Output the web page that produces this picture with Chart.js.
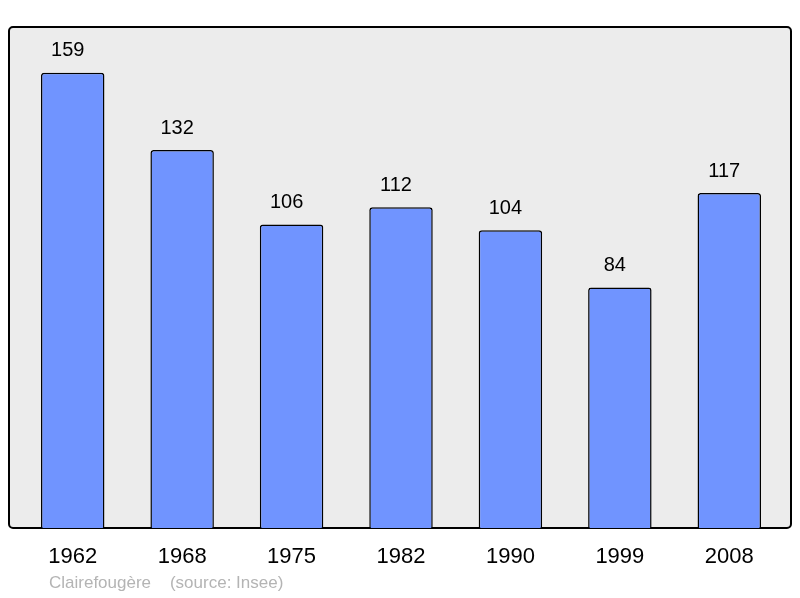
<!DOCTYPE html>
<html>
<head>
<meta charset="utf-8">
<script src="https://cdn.jsdelivr.net/npm/chart.js@4"></script>
<style>
  html, body { margin: 0; padding: 0; background: #ffffff; }
  #wrap { width: 800px; height: 598px; position: relative; }
</style>
</head>
<body>
<div id="wrap"><canvas id="popChart"></canvas></div>
<script>
// Population per census year
const years = ['1962', '1968', '1975', '1982', '1990', '1999', '2008'];
const population = [159, 132, 106, 112, 104, 84, 117];
const footerText = 'Clairefougère    (source: Insee)';

/**
 * Grey rounded frame behind the plot area
 */
const framePlugin = {
    id: 'frame',
    beforeDraw(chart) {
        const a = chart.chartArea;
        const ctx = chart.ctx;
        const x = a.left - 9, y = a.top, w = (a.right + 7) - x, h = a.bottom - a.top;
        ctx.save();
        ctx.beginPath();
        ctx.roundRect(x, y, w, h, 4);
        ctx.fillStyle = '#ececec';
        ctx.fill();
        ctx.lineWidth = 2;
        ctx.strokeStyle = '#000000';
        ctx.stroke();
        ctx.restore();
    }
};

/**
 * Value labels above each bar and the source line
 */
const labelPlugin = {
    id: 'labels',
    afterDatasetsDraw(chart) {
        const ctx = chart.ctx;
        const meta = chart.getDatasetMeta(0);
        ctx.save();
        ctx.font = '20px "Liberation Sans", Arial, sans-serif';
        ctx.fillStyle = '#000000';
        ctx.textAlign = 'center';
        ctx.textBaseline = 'middle';
        meta.data.forEach((bar, i) => {
            ctx.fillText(String(population[i]), bar.x - 5, bar.y - 22);
        });
        ctx.font = '17px "Liberation Sans", Arial, sans-serif';
        ctx.fillStyle = '#b4b4b4';
        ctx.textAlign = 'left';
        ctx.fillText(footerText, 49, 583);
        ctx.restore();
    }
};

const ctx = document.getElementById('popChart').getContext('2d');
new Chart(ctx, {
    type: 'bar',
    data: {
        labels: years,
        datasets: [{
            data: population,
            backgroundColor: '#7094ff',
            borderColor: '#000000',
            borderWidth: 1.5,
            borderRadius: 3,
            borderSkipped: 'bottom',
            categoryPercentage: 1,
            barPercentage: 0.58
        }]
    },
    options: {
        responsive: true,
        maintainAspectRatio: false,
        animation: false,
        layout: {
            padding: { left: 18, right: 16, top: 27, bottom: 0 }
        },
        plugins: {
            legend: { display: false },
            tooltip: { enabled: false }
        },
        scales: {
            x: {
                grid: { display: false, drawTicks: false },
                border: { display: false },
                ticks: {
                    color: '#000000',
                    padding: 16,
                    font: { family: '"Liberation Sans", Arial, sans-serif', size: 22 }
                },
                afterFit(scale) { scale.height = 70; }
            },
            y: {
                display: false,
                min: 0,
                max: 175
            }
        }
    },
    plugins: [framePlugin, labelPlugin]
});
</script>
</body>
</html>
